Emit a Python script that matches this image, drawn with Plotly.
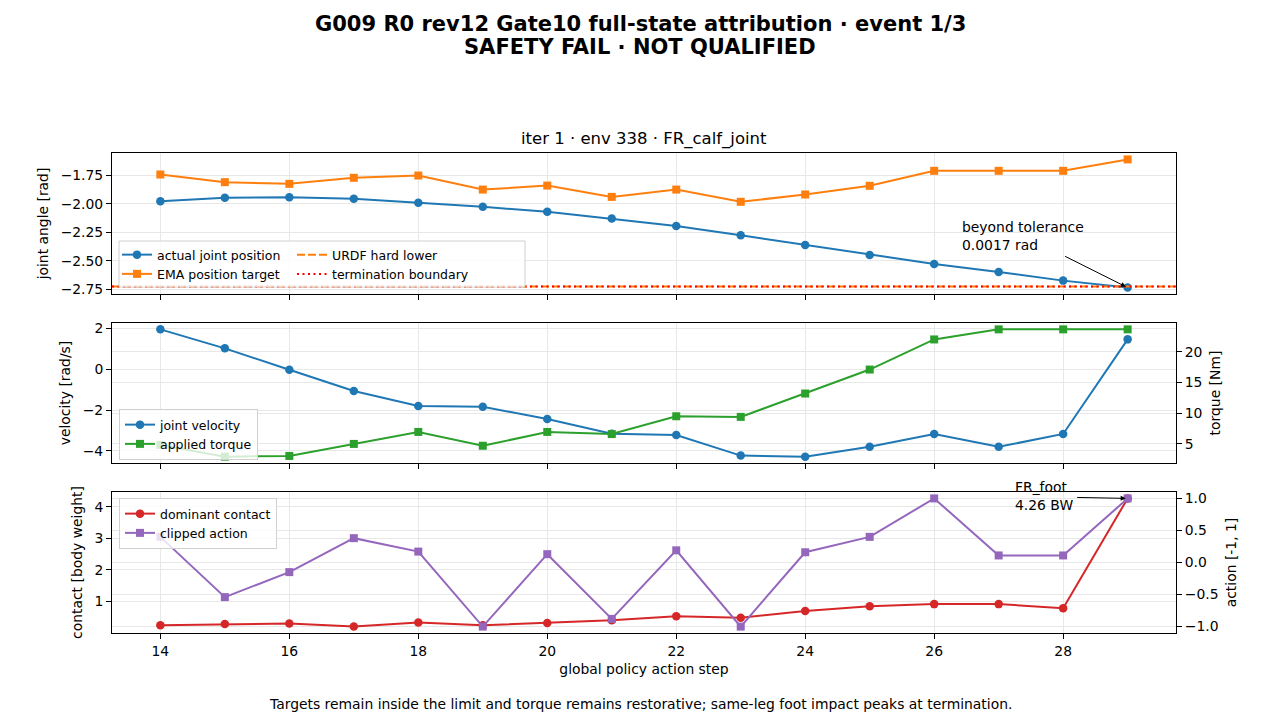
import plotly.graph_objects as go
from plotly.subplots import make_subplots

# global policy action steps shown in the window
steps = list(range(14, 30))

# panel 1: joint angle [rad]
joint_pos = [-1.977, -1.947, -1.942, -1.956, -1.991, -2.026, -2.070, -2.129,
             -2.193, -2.275, -2.360, -2.447, -2.526, -2.596, -2.672, -2.733]
ema_target = [-1.743, -1.810, -1.825, -1.772, -1.752, -1.875, -1.840, -1.939,
              -1.875, -1.982, -1.918, -1.842, -1.711, -1.711, -1.711, -1.611]
urdf_lower = -2.7227
term_boundary = -2.7227

# panel 2: velocity [rad/s] and torque [Nm]
joint_vel = [1.95, 1.02, -0.03, -1.07, -1.80, -1.84, -2.44, -3.16,
             -3.22, -4.23, -4.28, -3.80, -3.17, -3.80, -3.17, 1.46]
torque = [4.84, 2.93, 3.04, 5.00, 6.95, 4.70, 6.95, 6.60,
          9.50, 9.40, 13.20, 17.10, 22.00, 23.64, 23.64, 23.64]

# panel 3: contact [body weight] and clipped action
contact = [0.25, 0.29, 0.31, 0.21, 0.34, 0.25, 0.32, 0.41,
           0.54, 0.49, 0.70, 0.85, 0.92, 0.92, 0.79, 4.26]
action = [0.40, -0.54, -0.15, 0.38, 0.17, -1.00, 0.13, -0.88,
          0.19, -1.00, 0.16, 0.40, 1.00, 0.11, 0.11, 1.00]

# page body has an 8px margin, so the figure is laid out 8px in from the window edge
OFF = 8
W, H = 1280 - OFF, 720 - OFF
L, R = 112 - OFF, 104
FONT = "DejaVu Sans"
FS = 13.9
GRID = "#e8e8e8"
BLUE, ORANGE, GREEN, RED, PURPLE = "#1f77b4", "#ff7f0e", "#2ca02c", "#d62728", "#9467bd"


def pad(lo, hi, f=0.05):
    d = (hi - lo) * f
    return [lo - d, hi + d]


def px_x(p):  # window pixel -> paper x
    return (p - OFF - L) / (W - L - R)


def px_y(p):  # window pixel -> paper y (no top/bottom margin)
    return 1 - (p - OFF) / H


x_range = pad(min(steps), max(steps))
x_mid = px_x(640)

fig = make_subplots(rows=3, cols=1, shared_xaxes=True,
                    specs=[[{}], [{"secondary_y": True}], [{"secondary_y": True}]])

line_kw = dict(width=2)
circ = dict(symbol="circle", size=8.5)
sq = dict(symbol="square", size=8)

# panel 1
fig.add_trace(go.Scatter(x=steps, y=joint_pos, mode="lines+markers", name="actual joint position",
                         line=dict(color=BLUE, **line_kw), marker=dict(color=BLUE, **circ),
                         legend="legend"), row=1, col=1)
fig.add_trace(go.Scatter(x=steps, y=ema_target, mode="lines+markers", name="EMA position target",
                         line=dict(color=ORANGE, **line_kw), marker=dict(color=ORANGE, **sq),
                         legend="legend"), row=1, col=1)
fig.add_trace(go.Scatter(x=x_range, y=[urdf_lower, urdf_lower], mode="lines", name="URDF hard lower",
                         line=dict(color=ORANGE, width=2, dash="8px,3px"), legend="legend4"), row=1, col=1)
fig.add_trace(go.Scatter(x=x_range, y=[term_boundary, term_boundary], mode="lines", name="termination boundary",
                         line=dict(color="red", width=2, dash="2px,3.5px"), legend="legend4"), row=1, col=1)

# panel 2
fig.add_trace(go.Scatter(x=steps, y=joint_vel, mode="lines+markers", name="joint velocity",
                         line=dict(color=BLUE, **line_kw), marker=dict(color=BLUE, **circ),
                         legend="legend2"), row=2, col=1, secondary_y=False)
fig.add_trace(go.Scatter(x=steps, y=torque, mode="lines+markers", name="applied torque",
                         line=dict(color=GREEN, **line_kw), marker=dict(color=GREEN, **sq),
                         legend="legend2"), row=2, col=1, secondary_y=True)

# panel 3
fig.add_trace(go.Scatter(x=steps, y=contact, mode="lines+markers", name="dominant contact",
                         line=dict(color=RED, **line_kw), marker=dict(color=RED, **circ),
                         legend="legend3"), row=3, col=1, secondary_y=False)
fig.add_trace(go.Scatter(x=steps, y=action, mode="lines+markers", name="clipped action",
                         line=dict(color=PURPLE, **line_kw), marker=dict(color=PURPLE, **sq),
                         legend="legend3"), row=3, col=1, secondary_y=True)

axis_common = dict(showline=True, linecolor="black", linewidth=1, mirror=True, automargin=False,
                   ticks="outside", ticklen=5, tickwidth=1, tickcolor="black",
                   showgrid=True, gridcolor=GRID, gridwidth=1, zeroline=False,
                   tickfont=dict(size=FS, color="black"))


def ytitle(text):
    return dict(text=text, font=dict(size=FS), standoff=8)


for ax in ["xaxis", "xaxis2", "xaxis3"]:
    fig.layout[ax].update(domain=[0, 1], range=x_range, tickmode="linear", tick0=14, dtick=2, **axis_common)
fig.layout.xaxis.showticklabels = False
fig.layout.xaxis2.showticklabels = False
fig.layout.xaxis3.update(title=dict(text="global policy action step", font=dict(size=FS), standoff=6))

y1_all = joint_pos + ema_target + [urdf_lower, term_boundary]
fig.layout.yaxis.update(domain=[px_y(294), px_y(153)], range=pad(min(y1_all), max(y1_all)),
                        tickmode="linear", tick0=-2.75, dtick=0.25, tickformat=".2f",
                        title=ytitle("joint angle [rad]"), **axis_common)
fig.layout.yaxis2.update(domain=[px_y(463), px_y(323)], range=pad(min(joint_vel), max(joint_vel)),
                         tickmode="linear", tick0=0, dtick=2,
                         title=ytitle("velocity [rad/s]"), **axis_common)
fig.layout.yaxis3.update(range=pad(min(torque), max(torque)), tickmode="linear", tick0=0, dtick=5,
                         title=ytitle("torque [Nm]"), **axis_common)
fig.layout.yaxis4.update(domain=[px_y(633), px_y(492)], range=pad(min(contact), max(contact)),
                         tickmode="linear", tick0=0, dtick=1,
                         title=ytitle("contact [body weight]"), **axis_common)
fig.layout.yaxis5.update(range=pad(-1, 1), tickmode="linear", tick0=0, dtick=0.5, tickformat=".1f",
                         title=ytitle("action [-1, 1]"), **axis_common)
fig.layout.yaxis3.mirror = False
fig.layout.yaxis5.mirror = False

leg_common = dict(xanchor="left", yanchor="top", font=dict(size=12.5, color="black"),
                  tracegroupgap=0, itemwidth=30)
fig.update_layout(
    legend=dict(x=px_x(117), y=px_y(240), bgcolor="rgba(0,0,0,0)", borderwidth=0, **leg_common),
    legend4=dict(x=px_x(292), y=px_y(240), bgcolor="rgba(0,0,0,0)", borderwidth=0, **leg_common),
    legend2=dict(x=px_x(119), y=px_y(409), bgcolor="rgba(255,255,255,0.8)", bordercolor="#d0d0d0",
                 borderwidth=1, **leg_common),
    legend3=dict(x=px_x(119), y=px_y(498), bgcolor="rgba(255,255,255,0.8)", bordercolor="#d0d0d0",
                 borderwidth=1, **leg_common),
)

# shared frame behind the two-column legend of panel 1
fig.add_shape(type="rect", xref="paper", yref="paper", x0=px_x(119), x1=px_x(525),
              y0=px_y(287), y1=px_y(241), fillcolor="rgba(255,255,255,0.8)",
              line=dict(color="#d0d0d0", width=1), layer="above")

# titles and caption
fig.add_annotation(text="<b>G009 R0 rev12 Gate10 full-state attribution · event 1/3</b>",
                   xref="paper", yref="paper", x=x_mid, y=px_y(24),
                   showarrow=False, font=dict(size=21), yanchor="middle")
fig.add_annotation(text="<b>SAFETY FAIL · NOT QUALIFIED</b>",
                   xref="paper", yref="paper", x=x_mid, y=px_y(47),
                   showarrow=False, font=dict(size=21), yanchor="middle")
fig.add_annotation(text="iter 1 · env 338 · FR_calf_joint", xref="paper", yref="paper",
                   x=px_x(644), y=px_y(139), showarrow=False, font=dict(size=16.5), yanchor="middle")
fig.add_annotation(text="Targets remain inside the limit and torque remains restorative; "
                        "same-leg foot impact peaks at termination.",
                   xref="paper", yref="paper", x=x_mid, y=px_y(704),
                   showarrow=False, font=dict(size=FS), yanchor="middle")

# callouts
fig.add_annotation(text="beyond tolerance<br>0.0017 rad", xref="x", yref="y", x=26.40, y=-2.278,
                   showarrow=False, xanchor="left", yanchor="middle", align="left",
                   font=dict(size=FS))
fig.add_annotation(text="", xref="x", yref="y", x=steps[-1], y=joint_pos[-1],
                   ax=-64, ay=-32, showarrow=True, arrowhead=2, arrowsize=1, arrowwidth=1,
                   arrowcolor="black", standoff=2)
fig.add_annotation(text="FR_foot<br>4.26 BW", xref="x3", yref="y4", x=27.22, y=4.35,
                   showarrow=False, xanchor="left", yanchor="middle", align="left",
                   font=dict(size=FS))
fig.add_annotation(text="", xref="x3", yref="y4", x=steps[-1], y=contact[-1],
                   ax=-52, ay=-1, showarrow=True, arrowhead=2, arrowsize=1, arrowwidth=1,
                   arrowcolor="black", standoff=2)

fig.update_layout(width=W, height=H, margin=dict(l=L, r=R, t=0, b=0, autoexpand=False),
                  plot_bgcolor="white", paper_bgcolor="white",
                  font=dict(family=FONT, size=FS, color="black"))

fig.write_html("out.html")
